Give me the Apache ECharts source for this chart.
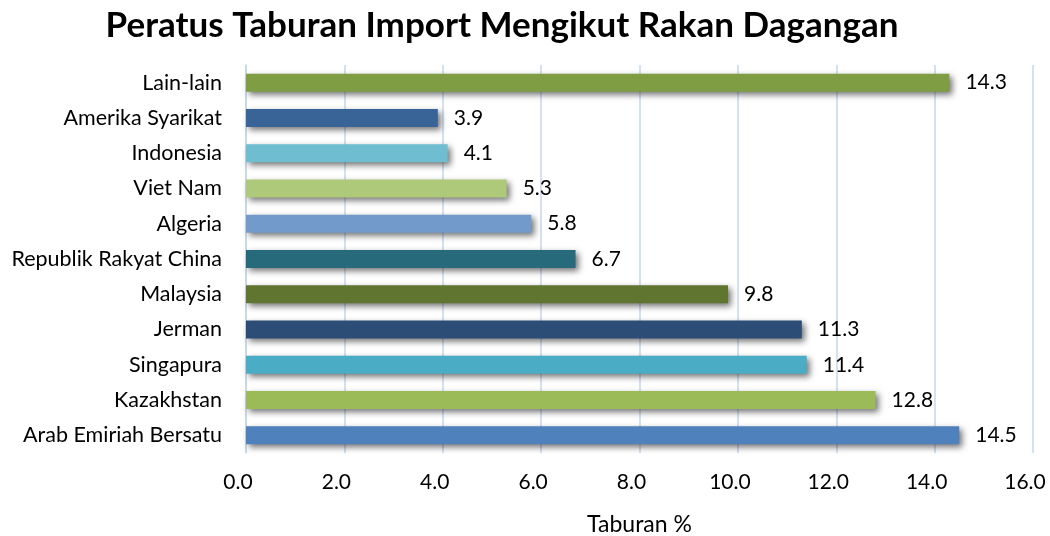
<!DOCTYPE html>
<html>
<head>
<meta charset="utf-8">
<script src="https://cdn.jsdelivr.net/npm/echarts@6/dist/echarts.min.js"></script>
<style>
  html, body { margin: 0; padding: 0; background: #fff; }
  #chart { width: 1050px; height: 536px; }
</style>
</head>
<body>
<div id="chart"></div>
<script>
// categories bottom to top, as drawn on the y axis
const countries = [
  'Arab Emiriah Bersatu', 'Kazakhstan', 'Singapura', 'Jerman', 'Malaysia',
  'Republik Rakyat China', 'Algeria', 'Viet Nam', 'Indonesia', 'Amerika Syarikat', 'Lain-lain'
]
const shares = [14.5, 12.8, 11.4, 11.3, 9.8, 6.7, 5.8, 5.3, 4.1, 3.9, 14.3]
const barColors = [
  '#4f81bd', '#9bbb59', '#4bacc6', '#2c4d75', '#5f7530',
  '#276a7c', '#729aca', '#afc97a', '#6fbdd1', '#386497', '#7f9d42'
]

const font = "Lato, 'Open Sans', sans-serif"
const chart = echarts.init(document.getElementById('chart'))

const option = {
  title: {
    text: 'Peratus Taburan Import Mengikut Rakan Dagangan',
    left: 497,
    textAlign: 'center',
    top: 3,
    textStyle: { fontFamily: font, fontSize: 35, fontWeight: 'bold', color: '#000' }
  },
  grid: { left: 246, right: 17, top: 65, bottom: 83, outerBoundsMode: 'none' },
  xAxis: {
    type: 'value',
    min: 0,
    max: 16,
    interval: 2,
    name: 'Taburan %',
    nameLocation: 'middle',
    nameGap: 60,
    nameTextStyle: { fontFamily: font, fontSize: 23, color: '#000' },
    axisLabel: {
      fontFamily: font, fontSize: 21, color: '#000', margin: 19,
      padding: [0, 16, 0, 0],
      formatter: v => v.toFixed(1)
    },
    axisLine: { show: false },
    axisTick: { show: false },
    splitLine: { show: true, lineStyle: { color: '#c6d7ec', width: 1.5 } }
  },
  yAxis: {
    type: 'category',
    data: countries,
    axisLabel: { fontFamily: font, fontSize: 21.5, color: '#000', margin: 24 },
    axisLine: { show: true, lineStyle: { color: '#c6d7ec', width: 1.5 } },
    axisTick: { show: false }
  },
  series: [
    {
      type: 'bar',
      barWidth: 18,
      data: shares.map((v, i) => ({ value: v, itemStyle: { color: barColors[i] } })),
      itemStyle: {
        shadowColor: 'rgba(0, 0, 0, 0.55)',
        shadowBlur: 6,
        shadowOffsetX: 3,
        shadowOffsetY: 3
      },
      label: {
        show: true,
        position: 'right',
        distance: 16,
        fontFamily: font,
        fontSize: 21,
        color: '#000',
        formatter: p => p.value.toFixed(1)
      }
    }
  ]
}

chart.setOption(option)
</script>
</body>
</html>
